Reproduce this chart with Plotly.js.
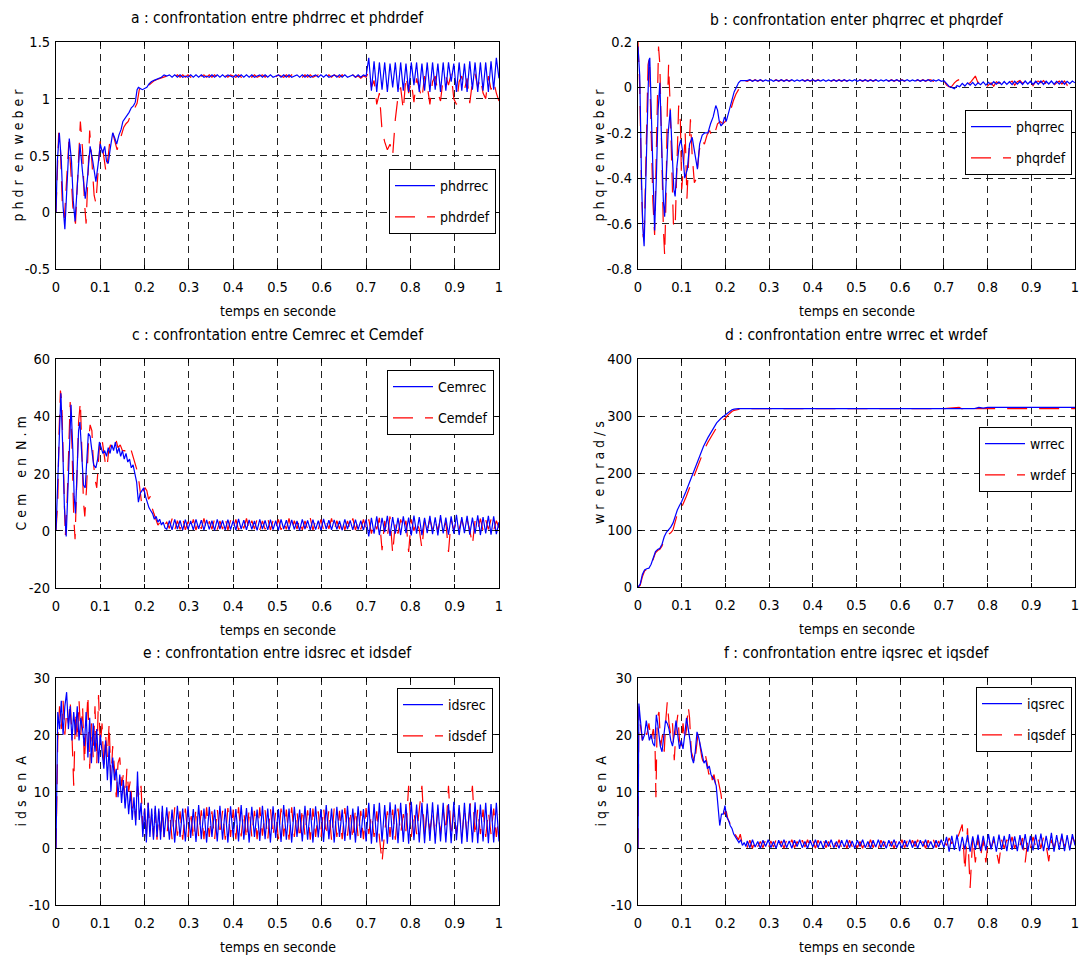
<!DOCTYPE html>
<html><head><meta charset="utf-8">
<script src="https://cdn.plot.ly/plotly-3.0.1.min.js"></script>
<style>html,body{margin:0;padding:0;background:#fff}</style>
</head><body><div id="chart" style="width:1088px;height:958px"></div>
<script>
// ---------- shared x ticks ----------
const xTickVals = [0,0.1,0.2,0.3,0.4,0.5,0.6,0.7,0.8,0.9,1];
const xTickText = ['0','0.1','0.2','0.3','0.4','0.5','0.6','0.7','0.8','0.9','1'];

// steady-state time samples (s)
const tS = [0.250,0.256,0.262,0.268,0.274,0.280,0.286,0.292,0.298,0.304,
0.310,0.316,0.322,0.328,0.334,0.340,0.346,0.352,0.358,0.364,
0.370,0.376,0.382,0.388,0.394,0.400,0.406,0.412,0.418,0.424,
0.430,0.436,0.442,0.448,0.454,0.460,0.466,0.472,0.478,0.484,
0.490,0.496,0.502,0.508,0.514,0.520,0.526,0.532,0.538,0.544,
0.550,0.556,0.562,0.568,0.574,0.580,0.586,0.592,0.598,0.604,
0.610,0.616,0.622,0.628,0.634,0.640,0.646,0.652,0.658,0.664,
0.670,0.676,0.682,0.688,0.694,0.700,0.706,0.712,0.718,0.724,
0.730,0.736,0.742,0.748,0.754,0.760,0.766,0.772,0.778,0.784,
0.790,0.796,0.802,0.808,0.814,0.820,0.826,0.832,0.838,0.844,
0.850,0.856,0.862,0.868,0.874,0.880,0.886,0.892,0.898,0.904,
0.910,0.916,0.922,0.928,0.934,0.940,0.946,0.952,0.958,0.964,
0.970,0.976,0.982,0.988,0.994,1.000];

// ---------- a : phdr ----------
const aTicks = [-0.5,0,0.5,1,1.5];
const aTickText = ['-0.5','0','0.5','1','1.5'];
const phdrrecT = [0,0.003,0.0075,0.012,0.016,0.020,0.025,0.030,0.035,0.039,0.043,0.048,0.054,0.060,0.066,0.071,0.077,0.083,0.090,0.095,0.100,0.105,0.110,0.114,0.118,0.122,0.128,0.133,0.137,0.142,0.147,0.151,0.155,0.160,0.165,0.170,0.175,0.179,0.183,0.186,0.190,0.195,0.200,0.205,0.210,0.215,0.220,0.226,0.232,0.238,0.244];
const phdrrecTr = [0,0.45,0.70,0.45,0.05,-0.15,0.25,0.65,0.45,0.10,-0.08,0.25,0.60,0.35,0.12,0.30,0.58,0.45,0.27,0.42,0.60,0.52,0.58,0.45,0.43,0.55,0.70,0.65,0.60,0.68,0.73,0.80,0.82,0.85,0.88,0.92,0.94,0.97,1.08,1.10,1.09,1.08,1.09,1.10,1.13,1.15,1.16,1.17,1.18,1.19,1.21];
const phdrrecSS = [1.20,1.21,1.19,1.21,1.19,1.21,1.19,1.20,1.19,1.21,
1.19,1.21,1.19,1.21,1.19,1.20,1.19,1.21,1.19,1.21,
1.19,1.21,1.19,1.21,1.20,1.19,1.21,1.19,1.21,1.19,
1.21,1.19,1.21,1.19,1.20,1.21,1.19,1.21,1.19,1.21,
1.19,1.20,1.21,1.19,1.21,1.19,1.21,1.19,1.20,1.21,
1.19,1.21,1.19,1.21,1.19,1.20,1.21,1.19,1.21,1.19,
1.21,1.19,1.20,1.21,1.19,1.21,1.19,1.21,1.19,1.20,
1.21,1.19,1.21,1.19,1.21,1.20,1.36,1.07,1.33,1.06,
1.32,1.08,1.32,1.06,1.31,1.10,1.32,1.06,1.32,1.07,
1.31,1.06,1.32,1.12,1.32,1.06,1.31,1.07,1.32,1.06,
1.32,1.08,1.31,1.06,1.32,1.07,1.32,1.15,1.31,1.06,
1.32,1.07,1.31,1.06,1.33,1.08,1.32,1.06,1.32,1.07,
1.32,1.06,1.33,1.08,1.36,1.18];
const phdrdefT = [0,0.003,0.006,0.010,0.014,0.019,0.024,0.029,0.033,0.038,0.044,0.049,0.055,0.060,0.064,0.068,0.072,0.076,0.081,0.086,0.090,0.095,0.100,0.104,0.109,0.113,0.118,0.123,0.128,0.133,0.138,0.143,0.148,0.153,0.158,0.163,0.168,0.173,0.178,0.183,0.188,0.192,0.196,0.200,0.205,0.210,0.216,0.222,0.228,0.234,0.240,0.246];
const phdrdefTr = [0,0.40,0.70,0.55,0.10,-0.05,0.30,0.62,0.40,0.05,-0.10,0.35,0.80,0.55,0.10,-0.10,0.30,0.72,0.45,0.15,0.08,0.35,0.64,0.60,0.45,0.35,0.50,0.68,0.70,0.62,0.55,0.62,0.68,0.75,0.78,0.80,0.85,0.88,0.92,0.96,1.08,1.10,1.08,1.09,1.10,1.12,1.14,1.16,1.17,1.18,1.19,1.20];
const phdrdefSS = [1.20,1.19,1.21,1.19,1.21,1.19,1.21,1.19,1.21,1.19,
1.21,1.19,1.21,1.20,1.21,1.19,1.21,1.19,1.21,1.19,
1.21,1.19,1.21,1.19,1.21,1.20,1.19,1.21,1.19,1.21,
1.19,1.21,1.19,1.21,1.19,1.20,1.21,1.19,1.21,1.19,
1.21,1.19,1.21,1.20,1.19,1.21,1.19,1.21,1.19,1.21,
1.20,1.19,1.21,1.19,1.21,1.19,1.20,1.21,1.19,1.21,
1.19,1.21,1.19,1.21,1.20,1.19,1.21,1.19,1.21,1.19,
1.21,1.19,1.20,1.18,1.20,1.19,1.24,1.10,1.16,0.95,
1.05,0.72,0.62,0.55,0.60,0.50,0.82,1.02,1.10,0.90,
1.20,1.05,1.15,0.97,1.18,1.10,1.00,1.20,1.12,0.95,
1.15,1.20,1.05,0.98,1.18,1.20,1.12,1.22,1.00,0.95,
1.15,1.20,1.08,1.18,0.96,1.15,1.22,1.10,1.18,1.05,
1.00,1.20,1.08,1.15,1.05,0.98];

// ---------- b : phqr ----------
const bTicks = [-0.8,-0.6,-0.4,-0.2,0,0.2];
const bTickText = ['-0.8','-0.6','-0.4','-0.2','0','0.2'];
const phqrrecT = [0,0.004,0.008,0.011,0.014,0.018,0.022,0.025,0.027,0.030,0.034,0.038,0.042,0.046,0.050,0.054,0.058,0.061,0.065,0.069,0.074,0.078,0.082,0.085,0.089,0.094,0.098,0.102,0.107,0.113,0.118,0.124,0.130,0.136,0.141,0.147,0.153,0.160,0.166,0.172,0.178,0.182,0.186,0.190,0.194,0.198,0.202,0.206,0.210,0.215,0.220,0.225,0.230,0.235,0.240,0.245];
const phqrrecTr = [0.18,0.05,-0.40,-0.62,-0.70,-0.40,0.00,0.12,0.13,-0.10,-0.45,-0.63,-0.40,-0.10,0.02,-0.20,-0.50,-0.57,-0.40,-0.20,-0.10,-0.25,-0.45,-0.48,-0.35,-0.26,-0.23,-0.28,-0.40,-0.36,-0.25,-0.22,-0.30,-0.36,-0.25,-0.21,-0.20,-0.20,-0.16,-0.13,-0.08,-0.10,-0.15,-0.17,-0.16,-0.13,-0.15,-0.12,-0.09,-0.05,-0.02,0.00,0.02,0.03,0.03,0.03];
const phqrrecSS = [0.030,0.034,0.027,0.033,0.028,0.034,0.027,0.033,0.028,0.034,
0.027,0.033,0.028,0.034,0.027,0.033,0.028,0.034,0.027,0.033,
0.028,0.034,0.027,0.033,0.028,0.034,0.027,0.033,0.028,0.034,
0.027,0.033,0.028,0.034,0.027,0.033,0.028,0.034,0.027,0.033,
0.028,0.034,0.027,0.033,0.028,0.034,0.027,0.033,0.028,0.034,
0.027,0.033,0.028,0.034,0.027,0.033,0.028,0.034,0.027,0.033,
0.028,0.034,0.027,0.033,0.028,0.034,0.027,0.033,0.028,0.034,
0.027,0.033,0.028,0.034,0.027,0.030,0.018,0.004,0.000,-0.006,
0.008,0.003,0.018,0.006,0.020,0.010,0.022,0.008,0.020,0.012,
0.024,0.010,0.022,0.012,0.025,0.014,0.024,0.012,0.026,0.013,
0.025,0.012,0.027,0.014,0.026,0.013,0.028,0.015,0.027,0.013,
0.027,0.014,0.028,0.013,0.027,0.015,0.028,0.014,0.027,0.015,
0.028,0.014,0.027,0.016,0.028,0.020];
const phqrdefT = [0,0.004,0.008,0.012,0.015,0.019,0.023,0.026,0.030,0.034,0.038,0.042,0.045,0.047,0.050,0.054,0.058,0.061,0.064,0.067,0.070,0.073,0.077,0.081,0.085,0.089,0.093,0.097,0.100,0.104,0.108,0.112,0.116,0.120,0.124,0.129,0.134,0.140,0.146,0.152,0.158,0.164,0.170,0.176,0.182,0.188,0.194,0.200,0.206,0.212,0.218,0.224,0.230,0.236,0.242,0.248];
const phqrdefTr = [0.20,0.00,-0.45,-0.66,-0.60,-0.20,0.10,0.13,-0.15,-0.50,-0.65,-0.30,0.05,0.18,0.10,-0.30,-0.62,-0.74,-0.50,-0.10,0.10,-0.05,-0.35,-0.60,-0.62,-0.30,-0.08,-0.15,-0.45,-0.35,-0.20,-0.49,-0.30,-0.14,-0.30,-0.42,-0.40,-0.28,-0.23,-0.25,-0.21,-0.19,-0.22,-0.20,-0.16,-0.15,-0.16,-0.15,-0.12,-0.10,-0.06,-0.03,-0.01,0.02,0.03,0.03];
const phqrdefSS = [0.027,0.033,0.028,0.034,0.027,0.033,0.028,0.034,0.027,0.033,
0.028,0.034,0.027,0.033,0.028,0.034,0.027,0.033,0.028,0.034,
0.027,0.033,0.028,0.034,0.027,0.033,0.028,0.034,0.027,0.033,
0.028,0.034,0.027,0.033,0.028,0.034,0.027,0.033,0.028,0.034,
0.027,0.033,0.028,0.034,0.027,0.033,0.028,0.034,0.027,0.033,
0.028,0.034,0.027,0.033,0.028,0.034,0.027,0.033,0.028,0.034,
0.027,0.033,0.028,0.034,0.027,0.033,0.028,0.034,0.027,0.033,
0.033,0.027,0.033,0.028,0.032,0.030,0.010,0.002,0.005,0.020,
0.030,0.035,0.042,0.025,0.015,0.020,0.038,0.050,0.020,0.030,
0.015,0.000,0.010,0.020,0.005,0.025,0.018,0.022,0.030,0.015,
0.020,0.028,0.010,0.025,0.030,0.018,0.028,0.020,0.030,0.008,
0.025,0.028,0.020,0.030,0.015,0.025,0.030,0.010,0.020,0.028,
0.015,0.028,0.010,0.025,0.030,0.010];

// ---------- c : Cem ----------
const cTicks = [-20,0,20,40,60];
const cTickText = ['-20','0','20','40','60'];
const CemrecT = [0,0.004,0.008,0.011,0.015,0.019,0.023,0.027,0.031,0.034,0.038,0.041,0.044,0.048,0.051,0.054,0.058,0.062,0.066,0.069,0.073,0.077,0.081,0.085,0.090,0.094,0.098,0.102,0.106,0.110,0.114,0.118,0.122,0.126,0.130,0.134,0.138,0.142,0.146,0.150,0.154,0.158,0.162,0.166,0.170,0.174,0.178,0.182,0.186,0.190,0.194,0.198,0.202,0.206,0.210,0.214,0.218,0.222,0.226,0.230,0.234,0.238,0.242,0.246];
const CemrecTr = [0,18,40,48,30,8,-2,15,38,44,28,12,6,20,35,38,28,16,15,24,34,33,28,23,22,25,31,29,27,28,26,29,27,30,28,31,27,29,26,28,25,27,24,25,22,23,20,17,10,13,14,15,12,10,8,7,6,4,5,3,4,2,3,1];
const CemrecSS = [0.5,3.5,0.3,4.0,0.6,3.6,0.2,3.9,0.5,3.4,
0.3,4.0,0.7,3.7,0.2,3.8,0.5,3.5,0.1,4.0,
0.6,3.6,0.3,3.9,0.4,3.5,0.2,4.1,0.6,3.7,
0.3,3.8,0.5,3.4,0.1,4.0,0.6,3.6,0.3,3.9,
0.4,3.5,0.2,4.0,0.6,3.7,0.3,3.8,0.5,3.4,
0.1,4.0,0.6,3.6,0.3,3.9,0.4,3.5,0.2,4.1,
0.6,3.7,0.3,3.8,0.5,3.4,0.1,4.0,0.6,3.6,
0.3,3.9,0.4,3.5,0.2,4.0,-2.0,4.5,-1.0,5.0,
-1.5,4.5,-0.5,5.2,-1.8,4.8,-1.0,4.5,-1.5,5.0,
-0.8,4.6,-1.6,5.3,-1.0,4.8,-1.5,4.5,-0.8,5.2,
-1.2,4.7,-1.6,5.5,-0.9,4.6,-1.4,5.0,-1.0,5.6,
-1.5,4.8,-0.8,5.2,-1.4,4.6,-1.0,5.4,-1.5,4.8,
-0.9,5.2,-1.4,5.0,-1.2,3.0];
const CemdefT = [0,0.004,0.007,0.010,0.013,0.017,0.021,0.025,0.029,0.032,0.036,0.040,0.043,0.047,0.051,0.055,0.058,0.062,0.065,0.069,0.073,0.077,0.081,0.084,0.088,0.092,0.095,0.099,0.103,0.107,0.111,0.115,0.119,0.123,0.127,0.131,0.135,0.140,0.145,0.150,0.155,0.160,0.165,0.170,0.175,0.180,0.185,0.189,0.193,0.197,0.201,0.205,0.209,0.213,0.217,0.221,0.225,0.230,0.235,0.240,0.245];
const CemdefTr = [0,10,35,49,45,20,-2,10,36,45,30,5,-3,15,38,45,30,10,5,15,30,37,35,25,18,15,22,32,33,28,24,22,28,30,29,31,32,29,30,28,28,27,26,28,25,22,20,15,10,14,15,14,11,12,8,6,4,2,3,1,2];
const CemdefSS = [3.0,0.8,4.2,0.2,3.5,0.5,4.4,0.3,3.2,0.6,
4.0,0.2,3.6,0.7,4.3,0.1,3.3,0.5,4.1,0.4,
3.4,0.6,4.4,0.2,3.6,0.5,4.0,0.3,3.2,0.8,
4.3,0.2,3.5,0.6,4.1,0.3,3.4,0.5,4.4,0.2,
3.6,0.7,4.0,0.3,3.3,0.5,4.3,0.1,3.5,0.6,
4.1,0.3,3.4,0.6,4.4,0.2,3.6,0.5,4.0,0.3,
3.3,0.7,4.3,0.2,3.5,0.6,4.1,0.3,3.4,0.5,
4.3,0.2,3.6,0.5,4.0,0.3,4.0,-1.0,3.0,0.5,
4.5,-6.8,3.5,-2.0,5.0,-8.0,3.0,-1.0,4.0,0.5,
3.5,-7.4,4.0,0.0,3.5,0.5,-6.2,3.8,0.2,4.0,
0.5,3.5,0.0,4.2,0.8,3.0,-7.4,4.0,0.2,3.5,
0.5,4.0,0.0,3.8,0.3,-5.0,3.5,0.5,4.2,0.0,
3.8,0.5,4.0,0.2,3.5,1.0];

// ---------- d : wr ----------
const dTicks = [0,100,200,300,400];
const dTickText = ['0','100','200','300','400'];
const wrrecT = [0,0.005,0.010,0.015,0.020,0.025,0.030,0.035,0.040,0.045,0.050,0.055,0.060,0.065,0.070,0.075,0.080,0.085,0.090,0.095,0.100,0.110,0.120,0.130,0.140,0.150,0.160,0.170,0.180,0.190,0.200,0.205,0.210,0.215,0.220,0.225,0.230,0.240,0.300,0.400,0.500,0.600,0.700,0.750,0.760,0.770,0.780,0.790,0.800,0.850,0.900,0.950,1.000];
const wrrecY = [0,5,22,30,32,33,40,52,62,66,68,75,88,96,100,105,112,125,135,143,150,168,188,207,228,247,262,276,288,296,302,305,308,311,312,313,313,313,313,313,313,313,313,313,314,313,315,314,315,315,315,315,315];
const wrdefT = [0,0.005,0.010,0.015,0.020,0.025,0.030,0.035,0.040,0.045,0.050,0.055,0.060,0.065,0.070,0.075,0.080,0.085,0.090,0.095,0.100,0.110,0.120,0.130,0.140,0.150,0.160,0.170,0.180,0.190,0.200,0.205,0.210,0.215,0.220,0.225,0.230,0.240,0.300,0.400,0.500,0.600,0.700,0.735,0.740,0.800,0.850,0.900,0.950,1.000];
const wrdefY = [0,3,18,28,31,32,38,50,60,64,66,72,84,90,92,95,100,115,128,135,140,158,178,198,220,238,254,268,280,290,296,301,305,308,310,311,312,313,313,313,313,313,313,315,313,313,313,313,313,313];

// ---------- e : ids ----------
const eTicks = [-10,0,10,20,30];
const eTickText = ['-10','0','10','20','30'];
const tT = [0.000,0.004,0.008,0.012,0.016,0.020,0.024,0.028,0.032,0.036,
0.040,0.044,0.048,0.052,0.056,0.060,0.064,0.068,0.072,0.076,
0.080,0.084,0.088,0.092,0.096,0.100,0.104,0.108,0.112,0.116,
0.120,0.124,0.128,0.132,0.136,0.140,0.144,0.148,0.152,0.156,
0.160,0.164,0.168,0.172,0.176,0.180,0.184,0.188,0.192,0.196,
0.200,0.204,0.208,0.212,0.216,0.220,0.224,0.228,0.232,0.236,
0.240,0.244];
const idsrecTr = [0,24,21,26,20,25,27.5,21,25,19,
24,20,25,19,23,21,18,24,16,23,
15,22,17,21,15,20,17,14,19,12,
18,10,16,12,14,9,13,8,12,7,
11,6,10,5,9,4,13.5,5,8,2,
7,1,8,2,7,1.5,7.5,2,7,1.5,
7.5,2];
const idsrecSS = [7.2,1.5,6.8,1.0,7.5,2.0,7.0,1.2,7.4,1.8,
6.9,1.1,7.6,1.6,7.0,1.0,7.3,2.0,6.8,1.2,
7.5,1.5,7.0,1.0,7.4,1.9,6.9,1.2,7.6,1.5,
7.1,1.0,7.3,2.0,6.8,1.3,7.5,1.6,7.0,1.0,
7.4,1.8,6.9,1.1,7.6,1.5,7.0,1.0,7.3,2.0,
6.8,1.2,7.5,1.5,7.1,1.0,7.4,1.9,6.9,1.1,
7.6,1.6,7.0,1.0,7.3,2.0,6.8,1.3,7.5,1.5,
7.0,1.0,7.4,1.8,6.9,1.2,8.0,0.8,7.8,1.0,
8.0,1.2,7.6,0.8,8.1,1.5,7.7,0.9,8.0,1.1,
7.8,0.8,8.2,1.4,7.7,1.0,8.0,0.9,7.9,1.3,
8.1,0.8,7.7,1.2,8.0,1.0,7.8,0.9,8.2,1.4,
7.6,0.8,8.0,1.1,7.9,1.0,8.1,0.9,7.7,1.2,
8.0,0.9,7.8,1.0,8.0,1.2];
const idsdefTr = [0,19,25,21,26,20,24,22,26,20,
11,24,19,26,20,25,15,22,27,14,
22,16,25,15,27,18,22,14,20,16,
22,12,18,14,9,15,16,11,13,8,
14,10,12,7,8,5,11,9,11,3,
7,2,8,3,6,2,7,1.5,6.5,2,
7,1.5];
const idsdefSS = [2.0,6.8,1.6,7.2,2.2,6.5,1.5,7.0,2.0,6.6,
1.5,7.1,2.1,6.7,1.6,7.2,2.0,6.5,1.5,7.0,
2.2,6.6,1.5,7.1,2.0,6.8,1.6,7.2,2.1,6.5,
1.5,7.0,2.0,6.6,1.6,7.2,2.2,6.7,1.5,7.1,
2.0,6.5,1.6,7.0,2.1,6.8,1.5,7.2,2.0,6.6,
1.6,7.1,2.2,6.7,1.5,7.0,2.0,6.5,1.6,7.2,
2.1,6.8,1.5,7.0,2.0,6.6,1.6,7.1,2.2,6.7,
1.5,7.0,2.0,6.6,1.6,7.1,2.5,6.0,2.0,6.5,
2.5,-2.5,3.0,6.5,2.0,6.8,1.5,7.0,2.5,6.0,
3.0,11.0,2.0,6.5,2.5,7.0,11.0,2.0,6.8,3.0,
6.5,2.0,7.0,2.5,6.8,3.0,11.0,2.0,6.5,2.5,
7.0,2.0,6.8,2.5,6.5,11.0,2.0,7.0,2.5,6.8,
2.0,6.5,2.5,7.0,2.0,6.0];

// ---------- f : iqs ----------
const fTicks = [-10,0,10,20,30];
const fTickText = ['-10','0','10','20','30'];
const iqsrecT = [0,0.002,0.005,0.010,0.015,0.019,0.022,0.026,0.030,0.034,0.038,0.042,0.045,0.048,0.051,0.055,0.059,0.063,0.067,0.071,0.075,0.079,0.083,0.087,0.091,0.095,0.099,0.103,0.107,0.111,0.115,0.119,0.123,0.127,0.131,0.135,0.139,0.143,0.147,0.151,0.155,0.159,0.163,0.167,0.171,0.175,0.179,0.183,0.187,0.191,0.195,0.199,0.203,0.207,0.211,0.215,0.219,0.223,0.227,0.231,0.235,0.239,0.243,0.247];
const iqsrecTr = [0,25.5,23,19,20,22.5,21,19,20,18.5,18,23.5,22,20,18,17,20,22.5,22,21,19,18,20,22.5,20,17.5,19,17.5,20,23,21,19,16,15,17,20.5,19.5,18,16,15,15.5,14,14.5,13,12.5,12,11,8,4,6,6,7.5,5.5,5,4,3.5,2.5,2,1.5,1,1.5,0.5,1,0.3];
const iqsrecSS = [1.3,0.1,1.5,0.2,1.2,0.0,1.4,0.3,1.5,0.1,
1.2,0.0,1.4,0.2,1.5,0.1,1.3,0.0,1.4,0.3,
1.5,0.1,1.2,0.0,1.4,0.2,1.5,0.1,1.3,0.0,
1.4,0.3,1.5,0.1,1.2,0.0,1.4,0.2,1.5,0.1,
1.3,0.0,1.4,0.3,1.5,0.1,1.2,0.0,1.4,0.2,
1.5,0.1,1.3,0.0,1.4,0.3,1.5,0.1,1.2,0.0,
1.4,0.2,1.5,0.1,1.3,0.0,1.4,0.3,1.5,0.1,
1.2,0.0,1.4,0.2,1.5,0.1,2.0,-0.6,2.2,-0.3,
2.4,-0.5,2.0,-0.2,2.3,-0.6,2.1,-0.3,2.4,-0.5,
2.2,-0.4,2.5,-0.2,2.1,-0.6,2.4,-0.3,2.2,-0.5,
2.5,-0.3,2.1,-0.5,2.3,-0.2,2.5,-0.6,2.2,-0.4,
2.4,-0.3,2.6,-0.5,2.2,-0.4,2.7,-0.6,2.3,-0.3,
2.6,-0.5,2.3,-0.4,2.5,0.5];
const iqsdefT = [0,0.002,0.005,0.010,0.015,0.020,0.025,0.030,0.035,0.039,0.041,0.044,0.048,0.052,0.056,0.060,0.064,0.067,0.071,0.075,0.079,0.083,0.087,0.091,0.095,0.099,0.103,0.107,0.111,0.115,0.118,0.122,0.126,0.130,0.134,0.138,0.142,0.146,0.150,0.154,0.158,0.162,0.166,0.170,0.174,0.178,0.182,0.186,0.190,0.194,0.198,0.202,0.206,0.210,0.214,0.218,0.222,0.226,0.230,0.234,0.238,0.242,0.246];
const iqsdefTr = [0,25,22,19,21,20,22,19,21,18,9,23,24,18,20,17,23,25.8,22,20,22,15.5,21,23.5,19,18,22,19,21,25,23,17,16,15,18,20.5,18,16,15,16.5,15,13,14,12,13,11,12.5,11,9.5,7,6,6.5,5,4.5,3.5,3,2.5,2,1.5,2.5,1,1.5,0.5];
const iqsdefSS = [0.2,1.4,0.0,1.5,0.3,1.2,0.1,1.5,0.0,1.3,
0.2,1.5,0.1,1.3,0.0,1.4,0.3,1.5,0.1,1.2,
0.0,1.4,0.2,1.5,0.1,1.3,0.0,1.4,0.3,1.5,
0.1,1.2,0.0,1.4,0.2,1.5,0.1,1.3,0.0,1.4,
0.3,1.5,0.1,1.2,0.0,1.4,0.2,1.5,0.1,1.3,
0.0,1.4,0.3,1.5,0.1,1.2,0.0,1.4,0.2,1.5,
0.1,1.3,0.0,1.4,0.3,1.5,0.1,1.2,0.0,1.4,
0.2,1.5,0.1,1.3,0.0,1.2,0.5,1.8,0.8,2.0,
1.5,3.0,4.2,-4.0,3.5,-7.0,2.0,-2.5,2.0,-1.5,
1.5,-2.5,1.8,0.0,1.5,-0.5,-2.7,1.5,0.0,1.5,
0.2,2.0,0.0,1.5,0.5,1.8,-2.5,1.5,0.0,2.0,
0.3,1.8,0.0,2.0,0.5,-2.3,1.5,0.0,1.8,0.5,
2.0,0.3,1.5,0.0,2.0,1.0];

// ---------- texts ----------
const titles = ['a : confrontation entre phdrrec et phdrdef','b : confrontation enter phqrrec et phqrdef','c : confrontation entre Cemrec et Cemdef','d : confrontation entre wrrec et wrdef','e : confrontation entre idsrec et idsdef','f : confrontation entre iqsrec et iqsdef'];
const yTitles = ['p h d r \u00a0e n \u00a0w e b e r','p h q r \u00a0e n \u00a0w e b e r','C e m \u00a0 \u00a0e n \u00a0N . m','w r \u00a0e n \u00a0r a d / s','i d s \u00a0e n \u00a0A','i q s \u00a0e n \u00a0A'];
const xTitle = 'temps en seconde';
const recNames = ['phdrrec','phqrrec','Cemrec','wrrec','idsrec','iqsrec'];
const defNames = ['phdrdef','phqrdef','Cemdef','wrdef','idsdef','iqsdef'];

// ---------- build ----------
const FONT = 'Liberation Sans Narrow, Arial Narrow, DejaVu Sans Condensed, sans-serif';
const W = 1088, H = 958;
// pixel boxes [left, right, top, bottom]
const boxes = [[56,499,42,269],[638,1075,42,269],[56,499,359,588],[638,1075,359,587],[56,499,678,905],[638,1075,678,905]];
const yRanges = [[-0.5,1.5],[-0.8,0.2],[-20,60],[0,400],[-10,30],[-10,30]];
const yTickSets = [[aTicks,aTickText],[bTicks,bTickText],[cTicks,cTickText],[dTicks,dTickText],[eTicks,eTickText],[fTicks,fTickText]];
const titleY = [18,20,335,335,653,653];
const yTitleX = [17,598,20,599,20,600];
const legendPos = [[389,169],[965,110],[387,370],[979,427],[397,688],[976,687]];

const recX = [phdrrecT.concat(tS), phqrrecT.concat(tS), CemrecT.concat(tS), wrrecT, tT.concat(tS), iqsrecT.concat(tS)];
const recY = [phdrrecTr.concat(phdrrecSS), phqrrecTr.concat(phqrrecSS), CemrecTr.concat(CemrecSS), wrrecY, idsrecTr.concat(idsrecSS), iqsrecTr.concat(iqsrecSS)];
const defX = [phdrdefT.concat(tS), phqrdefT.concat(tS), CemdefT.concat(tS), wrdefT, tT.concat(tS), iqsdefT.concat(tS)];
const defY = [phdrdefTr.concat(phdrdefSS), phqrdefTr.concat(phqrdefSS), CemdefTr.concat(CemdefSS), wrdefY, idsdefTr.concat(idsdefSS), iqsdefTr.concat(iqsdefSS)];

const data = [];
const layout = {
  width: W, height: H, margin: {l:0,r:0,t:0,b:0},
  paper_bgcolor: '#ffffff', plot_bgcolor: '#ffffff',
  font: {family: FONT, color: '#000'},
  showlegend: true, annotations: []
};

for (let i = 0; i < 6; i++) {
  const n = i === 0 ? '' : String(i + 1);
  const lg = 'legend' + n;
  const b = boxes[i];
  data.push({type:'scatter', mode:'lines', x: defX[i], y: defY[i], xaxis:'x'+n, yaxis:'y'+n,
    name: defNames[i], legend: lg, legendrank: 2, legendgroup: 'g'+i+'d',
    line:{color:'#ff0000', width:1.2, dash:'20px,12px'}, hoverinfo:'skip'});
  data.push({type:'scatter', mode:'lines', x: recX[i], y: recY[i], xaxis:'x'+n, yaxis:'y'+n,
    name: recNames[i], legend: lg, legendrank: 1, legendgroup: 'g'+i+'r',
    line:{color:'#0000ff', width:1.2}, hoverinfo:'skip'});
  const common = {showline:true, linecolor:'#000', linewidth:1, mirror:'ticks', ticks:'inside', ticklen:4,
    tickcolor:'#000', showgrid:true, gridcolor:'#222', gridwidth:1, griddash:'7px,5px', zeroline:false,
    tickfont:{family:FONT, size:14.5, color:'#000'}, fixedrange:true};
  layout['xaxis'+n] = Object.assign({}, common, {domain:[b[0]/W, b[1]/W], range:[0,1], anchor:'y'+n,
    tickmode:'array', tickvals:xTickVals, ticktext:xTickText, ticklabelstandoff:5});
  layout['yaxis'+n] = Object.assign({}, common, {domain:[1-b[3]/H, 1-b[2]/H], range:yRanges[i], anchor:'x'+n,
    tickmode:'array', tickvals:yTickSets[i][0], ticktext:yTickSets[i][1], ticklabelstandoff:2});
  layout[lg] = {x: legendPos[i][0]/W, y: 1-legendPos[i][1]/H, xanchor:'left', yanchor:'top',
    bgcolor:'#ffffff', bordercolor:'#000', borderwidth:1, font:{family:FONT, size:14, color:'#000'},
    traceorder:'grouped', tracegroupgap:10, itemwidth:40};
  layout.annotations.push({text: titles[i], xref:'x'+n+' domain', x:0.5, yref:'paper', y:1-titleY[i]/H,
    xanchor:'center', yanchor:'middle', showarrow:false, font:{family:FONT, size:15.5, color:'#000'}});
  layout.annotations.push({text: xTitle, xref:'x'+n+' domain', x:0.5, yref:'paper', y:1-(b[3]+42)/H,
    xanchor:'center', yanchor:'middle', showarrow:false, font:{family:FONT, size:14, color:'#000'}});
  layout.annotations.push({text: yTitles[i], xref:'paper', x:yTitleX[i]/W, yref:'y'+n+' domain', y:0.5,
    xanchor:'center', yanchor:'middle', textangle:-90, showarrow:false, font:{family:FONT, size:14, color:'#000'}});
}

Plotly.newPlot('chart', data, layout, {staticPlot:true, displayModeBar:false});
</script></body></html>
